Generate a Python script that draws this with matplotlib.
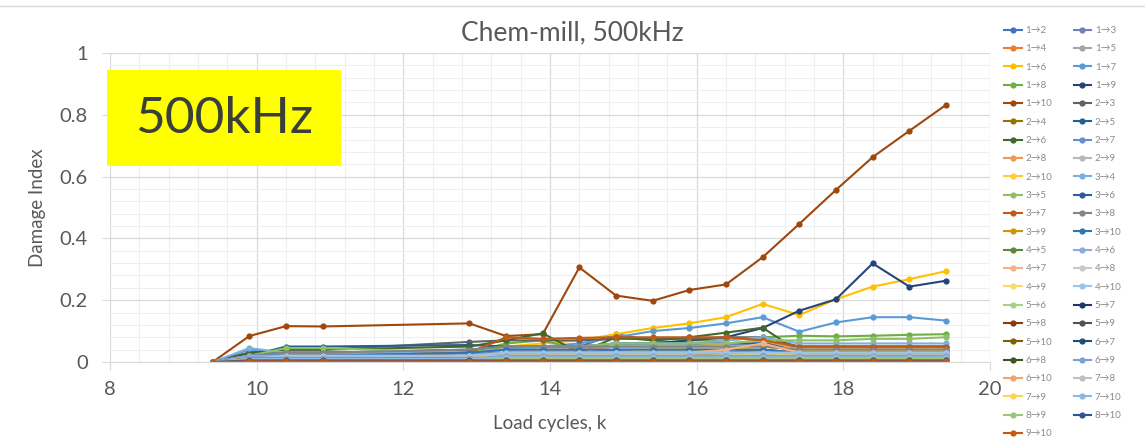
import matplotlib
matplotlib.use("Agg")
import matplotlib.pyplot as plt
from matplotlib.ticker import MultipleLocator, FuncFormatter
from matplotlib.patches import Rectangle
from matplotlib.lines import Line2D

plt.rcParams['font.family'] = ['Lato', 'DejaVu Sans']

# Load cycles (thousands) at which the damage index was evaluated
cycles = [9.4, 9.9, 10.4, 10.9, 12.9, 13.4, 13.9, 14.4, 14.9,
          15.4, 15.9, 16.4, 16.9, 17.4, 17.9, 18.4, 18.9, 19.4]

# Damage index per actuator -> sensor path
d_1_2 = [0, .03, .03, .03, .03, .05, .05, .05, .09, .07, .06, .06, .06, .05, .05, .05, .05, .05]
d_1_3 = [0, .02, .02, .02, .03, .03, .03, .03, .04, .04, .04, .04, .04, .03, .03, .03, .03, .03]
d_1_4 = [0, .01, .01, .01, .01, .02, .02, .02, .02, .02, .02, .03, .03, .03, .03, .03, .03, .04]
d_1_5 = [0, .02, .02, .02, .02, .03, .03, .03, .03, .04, .04, .04, .05, .04, .04, .04, .04, .04]
d_1_6 = [0, .02, .02, .02, .03, .05, .06, .07, .09, .11, .125, .145, .188, .152, .203, .244, .268, .294]
d_1_7 = [0, .04, .03, .03, .03, .04, .05, .06, .08, .10, .11, .125, .145, .098, .128, .145, .145, .134]
d_1_8 = [0, .02, .03, .03, .03, .06, .07, .04, .06, .06, .07, .07, .08, .085, .083, .085, .088, .09]
d_1_9 = [0, .02, .03, .03, .04, .05, .05, .05, .06, .06, .07, .08, .11, .166, .203, .319, .244, .263]
d_1_10 = [0, .084, .116, .115, .125, .084, .09, .306, .215, .198, .233, .251, .339, .447, .557, .663, .748, .832]
d_2_3 = [0, .03, .04, .04, .065, .07, .07, .07, .075, .075, .075, .08, .08, .05, .05, .05, .05, .05]
d_2_4 = [0, .01, .02, .02, .02, .03, .03, .03, .03, .03, .03, .03, .04, .03, .03, .03, .03, .03]
d_2_5 = [0, .02, .05, .05, .055, .05, .05, .05, .06, .06, .06, .06, .06, .04, .04, .04, .04, .04]
d_2_6 = [0, .03, .04, .04, .05, .07, .093, .03, .08, .07, .08, .095, .111, .033, .035, .035, .035, .035]
d_2_7 = [0, .02, .02, .02, .03, .04, .04, .04, .05, .05, .05, .05, .05, .04, .04, .04, .04, .04]
d_2_8 = [0, .02, .02, .02, .03, .04, .04, .04, .05, .05, .05, .06, .07, .04, .04, .04, .04, .04]
d_2_9 = [0, .02, .02, .02, .02, .03, .03, .03, .03, .03, .03, .03, .03, .03, .03, .03, .03, .03]
d_2_10 = [0, .01, .01, .01, .02, .03, .03, .03, .03, .04, .04, .04, .05, .04, .04, .04, .04, .04]
d_3_4 = [0, .045, .03, .03, .03, .04, .05, .05, .06, .06, .06, .07, .08, .06, .06, .06, .06, .06]
d_3_5 = [0, .02, .045, .045, .03, .05, .05, .05, .06, .06, .06, .06, .07, .07, .07, .075, .075, .08]
d_3_6 = [0, .01, .02, .02, .02, .03, .03, .03, .03, .03, .03, .03, .03, .02, .02, .02, .02, .02]
d_3_7 = [0, .01, .02, .02, .03, .08, .075, .078, .08, .08, .08, .08, .07, .05, .05, .05, .05, .05]
d_3_8 = [0, .02, .03, .03, .04, .05, .05, .05, .05, .05, .05, .05, .05, .04, .04, .04, .04, .04]
d_3_9 = [0, .01, .01, .01, .01, .02, .02, .02, .02, .02, .02, .02, .02, .02, .02, .02, .02, .02]
d_3_10 = [0, .02, .02, .02, .03, .04, .04, .04, .04, .04, .04, .04, .04, .03, .03, .03, .03, .03]
d_4_5 = [0, .01, .01, .01, .02, .02, .02, .02, .02, .02, .02, .02, .02, .02, .02, .02, .02, .02]
d_4_6 = [0, .02, .02, .02, .02, .03, .03, .03, .03, .03, .03, .03, .03, .03, .03, .03, .03, .03]
d_4_7 = [0, .01, .01, .01, .02, .02, .02, .03, .03, .03, .03, .04, .06, .03, .03, .03, .03, .03]
d_4_8 = [0, .01, .01, .01, .01, .02, .02, .02, .02, .02, .02, .02, .02, .02, .02, .02, .02, .02]
d_4_9 = [0, .01, .01, .01, .01, .02, .02, .02, .02, .02, .02, .02, .03, .02, .02, .02, .02, .02]
d_4_10 = [0, .01, .02, .02, .02, .03, .03, .03, .03, .03, .03, .03, .03, .03, .03, .03, .03, .03]
d_5_6 = [0, .01, .01, .01, .01, .02, .02, .02, .02, .02, .02, .02, .02, .02, .02, .02, .02, .02]
d_5_7 = [0, .01, .01, .01, .01, .01, .01, .01, .01, .01, .01, .01, .01, .01, .01, .01, .01, .01]
d_5_8 = [0, .01, .01, .01, .01, .01, .01, .01, .01, .01, .01, .01, .01, .01, .01, .01, .01, .01]
d_5_9 = [0, .01, .01, .01, .01, .01, .01, .01, .01, .01, .01, .01, .02, .01, .01, .01, .01, .01]
d_5_10 = [0, .01, .01, .01, .01, .01, .01, .01, .01, .01, .01, .01, .01, .01, .01, .01, .01, .01]
d_6_7 = [0, .005, .005, .005, .005, .01, .01, .01, .01, .01, .01, .01, .01, .01, .01, .01, .01, .01]
d_6_8 = [0, .01, .01, .01, .01, .015, .015, .015, .015, .015, .015, .015, .015, .015, .015, .015, .015, .015]
d_6_9 = [0, .01, .01, .01, .01, .02, .02, .02, .02, .02, .02, .02, .02, .02, .02, .02, .02, .02]
d_6_10 = [0, .005, .005, .005, .005, .01, .01, .01, .01, .01, .01, .01, .01, .01, .01, .01, .01, .01]
d_7_8 = [0, .01, .01, .01, .01, .01, .01, .01, .01, .01, .01, .01, .01, .01, .01, .01, .01, .01]
d_7_9 = [0, .005, .005, .005, .005, .005, .005, .005, .005, .005, .005, .005, .005, .005, .005, .005, .005, .005]
d_7_10 = [0, .01, .01, .01, .01, .015, .015, .015, .015, .015, .015, .015, .015, .015, .015, .015, .015, .015]
d_8_9 = [0, .005, .005, .005, .005, .01, .01, .01, .01, .01, .01, .01, .01, .01, .01, .01, .01, .01]
d_8_10 = [0, .005, .005, .005, .005, .005, .005, .005, .005, .005, .005, .005, .005, .005, .005, .005, .005, .005]
d_9_10 = [0, .002, .002, .002, .002, .002, .002, .002, .002, .002, .002, .002, .002, .002, .002, .002, .002, .002]

paths = ['1→2', '1→3', '1→4', '1→5', '1→6', '1→7', '1→8', '1→9', '1→10',
         '2→3', '2→4', '2→5', '2→6', '2→7', '2→8', '2→9', '2→10',
         '3→4', '3→5', '3→6', '3→7', '3→8', '3→9', '3→10',
         '4→5', '4→6', '4→7', '4→8', '4→9', '4→10',
         '5→6', '5→7', '5→8', '5→9', '5→10',
         '6→7', '6→8', '6→9', '6→10',
         '7→8', '7→9', '7→10',
         '8→9', '8→10',
         '9→10']

series = [d_1_2, d_1_3, d_1_4, d_1_5, d_1_6, d_1_7, d_1_8, d_1_9, d_1_10,
          d_2_3, d_2_4, d_2_5, d_2_6, d_2_7, d_2_8, d_2_9, d_2_10,
          d_3_4, d_3_5, d_3_6, d_3_7, d_3_8, d_3_9, d_3_10,
          d_4_5, d_4_6, d_4_7, d_4_8, d_4_9, d_4_10,
          d_5_6, d_5_7, d_5_8, d_5_9, d_5_10,
          d_6_7, d_6_8, d_6_9, d_6_10,
          d_7_8, d_7_9, d_7_10,
          d_8_9, d_8_10,
          d_9_10]

colors = ['#4472C4', '#6F83B4', '#ED7D31', '#A5A5A5', '#FFC000', '#5B9BD5', '#70AD47', '#264478', '#9E480E',
          '#636363', '#997300', '#255E91', '#43682B', '#698ED0', '#F1975A', '#B7B7B7', '#FFCD33',
          '#7CAFDD', '#8CC168', '#335AA1', '#BE5B17', '#848484', '#CC9A00', '#2E75B6',
          '#5A8A39', '#8FAADC', '#F4B183', '#C9C9C9', '#FFD966', '#9DC3E6',
          '#A9D18E', '#203864', '#843C0C', '#525252', '#7F6000',
          '#1F4E79', '#385723', '#7F9FD8', '#F2A26E',
          '#C0C0C0', '#FFD34D', '#8CB9E1',
          '#9BC77A', '#2F5496',
          '#C55A11']

W, H = 1145, 445
fig = plt.figure(figsize=(W / 100, H / 100), dpi=100)
ax = fig.add_axes([110 / W, 1 - 362 / H, 880 / W, 309 / H])

handles = []
for lab, vals, col in zip(paths, series, colors):
    h, = ax.plot(cycles, vals, color=col, lw=1.5, marker='o', ms=4.5,
                 markeredgewidth=0, label=lab)
    handles.append(h)

ax.set_xlim(8, 20)
ax.set_ylim(0, 1)
ax.xaxis.set_major_locator(MultipleLocator(2))
ax.xaxis.set_minor_locator(MultipleLocator(0.4))
ax.yaxis.set_major_locator(MultipleLocator(0.2))
ax.yaxis.set_minor_locator(MultipleLocator(0.04))
ax.yaxis.set_major_formatter(FuncFormatter(lambda v, p: f"{v:g}"))
ax.grid(which='major', color='#D9D9D9', lw=0.9)
ax.grid(which='minor', color='#EFEFEF', lw=0.8)
ax.set_axisbelow(True)
for s in ['top', 'right', 'left']:
    ax.spines[s].set_visible(False)
ax.spines['bottom'].set_color('#D9D9D9')
ax.tick_params(which='major', length=6, color='#D9D9D9', labelcolor='#595959',
               labelsize=14.5, pad=8)
ax.tick_params(axis='y', which='major', pad=10)
ax.tick_params(which='minor', length=0)

ax.set_xlabel('Load cycles, k', fontsize=13.5, color='#595959', labelpad=12)
ax.set_ylabel('Damage Index', fontsize=13.5, color='#595959', labelpad=10)

fig.text(0.5, 1 - 33 / H, 'Chem-mill, 500kHz', ha='center', va='center',
         fontsize=19, color='#595959')

# Frequency badge
fig.add_artist(Rectangle((107 / W, 1 - 166 / H), 234 / W, 96 / H,
                         transform=fig.transFigure, facecolor='#FFFF00',
                         edgecolor='none', zorder=5))
fig.text(224 / W, 1 - 119 / H, '500kHz', ha='center', va='center',
         fontsize=37, color='#3A3F3A', zorder=6)

# Thin border line at the top of the chart area
fig.add_artist(Line2D([0, 1], [1 - 6 / H, 1 - 6 / H], transform=fig.transFigure,
                      color='#D9D9D9', lw=1))

# Legend filled row by row across two columns
order = list(range(0, len(handles), 2)) + list(range(1, len(handles), 2))
leg = fig.legend([handles[i] for i in order], [paths[i] for i in order],
                 ncol=2, loc='upper left', bbox_to_anchor=(1004 / W, 1 - 26 / H),
                 frameon=False, fontsize=7, handlelength=1.8, handletextpad=0.4,
                 labelspacing=0.96, columnspacing=2.2, borderpad=0,
                 borderaxespad=0)
for t in leg.get_texts():
    t.set_color('#8C8C8C')

fig.savefig('out.png', dpi=100)
